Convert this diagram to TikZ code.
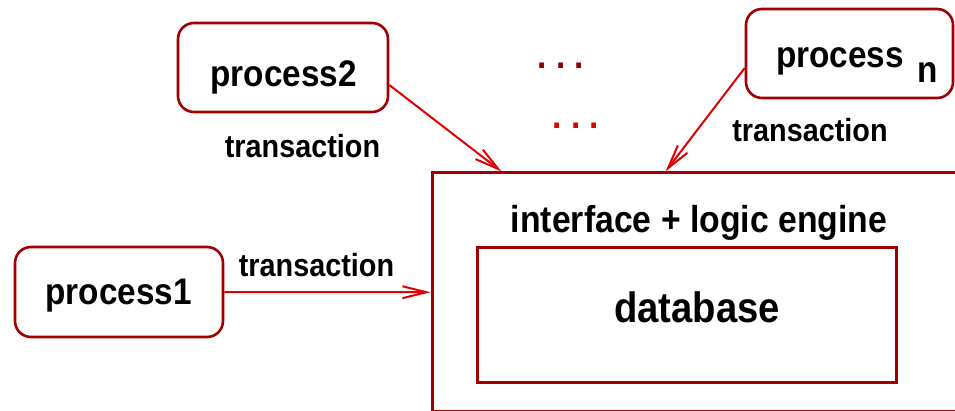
\documentclass[tikz,border=0pt]{standalone}
\usepackage{fontspec}
\setmainfont[FakeStretch=0.9]{Liberation Sans}
\usetikzlibrary{arrows.meta,calc}
\definecolor{boxred}{HTML}{A00000}
\definecolor{arrred}{HTML}{E00000}
\definecolor{dotdark}{HTML}{900000}
\begin{document}
\begin{tikzpicture}[x=1pt,y=-1pt,
  procbox/.style={draw=boxred, line width=2.6pt, rounded corners=16pt, inner sep=0pt},
  sqbox/.style={draw=boxred, line width=3pt, inner sep=0pt},
  txt/.style={font=\fontsize{37}{40}\selectfont\bfseries, anchor=base, inner sep=0pt},
  iftxt/.style={font=\fontsize{37.5}{40}\selectfont\bfseries, anchor=base, inner sep=0pt},
  dbtxt/.style={font=\fontsize{42.5}{45}\selectfont\bfseries, anchor=base, inner sep=0pt},
  trtxt/.style={font=\fontsize{32}{35}\selectfont\bfseries, anchor=base, inner sep=0pt},
  dots/.style={font=\fontsize{37}{40}\selectfont\bfseries, anchor=base, inner sep=0pt},
  conn/.style={draw=arrred, line width=2pt, -{Straight Barb[length=24pt,width=12pt]}}
]
\useasboundingbox (0,0) rectangle (955,411);
\clip (0,0) rectangle (955,411);

% process boxes
\node[procbox, minimum width=210pt, minimum height=89pt] (p2) at (283,67.5) {};
\node[procbox, minimum width=207pt, minimum height=89pt] (pn) at (849.5,53.5) {};
\node[procbox, minimum width=208pt, minimum height=90pt] (p1) at (119,292) {};

% engine and database
\node[sqbox, minimum width=530pt, minimum height=238.5pt] (eng) at (697,292.25) {};
\node[sqbox, minimum width=419pt, minimum height=134pt] (db) at (686.5,315) {};

% texts
\node[txt] (t2) at (283.5,87) {process2};
\node[txt, anchor=base west] (tn) at (776,68) {process\hspace{14pt}\raisebox{-15pt}{n}};
\node[txt] (t1) at (118.5,305) {process1};
\node[iftxt] (tif) at (699,233) {interface + logic engine};
\node[dbtxt] (tdb) at (697,323) {database};

\node[trtxt] (tr2) at (302.5,157.5) {transaction};
\node[trtxt] (trn) at (810,142) {transaction};
\node[trtxt] (tr1) at (316.5,277) {transaction};

% dots
\node[dots, text=dotdark] (d1) at (561,68.5) {.\ .\ .};
\node[dots, text=arrred] (d2) at (576,128.5) {.\ .\ .};

% connectors
\draw[conn] (p1.east) -- (eng.west);
\draw[conn] ($(p2.east)+(0,17.5)$) -- ($(eng.north west)+(71,0)$);
\draw[conn] ($(pn.west)+(0,14.5)$) -- ($(eng.north west)+(235,0)$);
\end{tikzpicture}
\end{document}
